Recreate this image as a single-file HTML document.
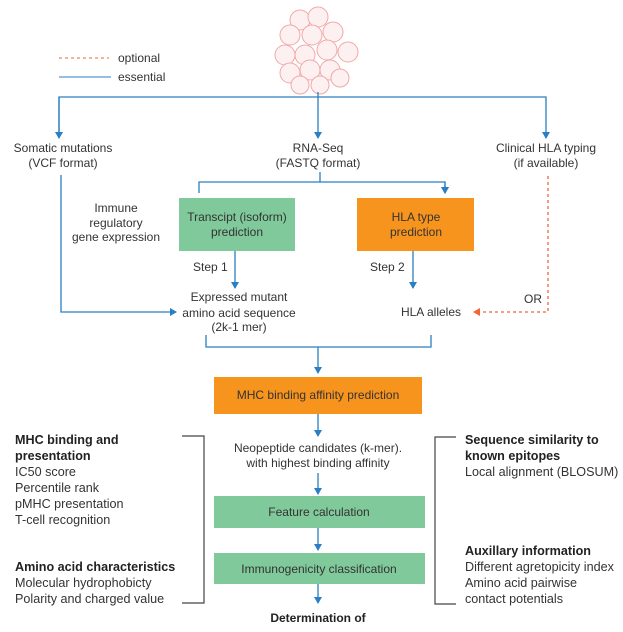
<!DOCTYPE html>
<html><head><meta charset="utf-8"><style>
body{margin:0;background:#fff}
svg text{font-family:"Liberation Sans",sans-serif;font-size:12px;fill:#333}
.b{font-weight:bold;fill:#222}
.s{font-size:12.6px}
</style></head><body>
<svg width="623" height="627" viewBox="0 0 623 627" xmlns="http://www.w3.org/2000/svg">
<defs>
<marker id="a" markerWidth="8" markerHeight="8" refX="6" refY="4" orient="auto" markerUnits="userSpaceOnUse"><path d="M0,0 L7,4 L0,8 z" fill="#2a7fc4"/></marker>
<marker id="o" markerWidth="8" markerHeight="8" refX="6" refY="4" orient="auto" markerUnits="userSpaceOnUse"><path d="M0,0 L7,4 L0,8 z" fill="#f0653a"/></marker>
</defs>
<g fill="#fdf0f0" stroke="#f2a8a8" stroke-width="1">
<circle cx="300" cy="20" r="10"/><circle cx="318" cy="17" r="10"/><circle cx="290" cy="35" r="10"/><circle cx="312" cy="35" r="10"/><circle cx="333" cy="32" r="10"/>
<circle cx="348" cy="52" r="10"/><circle cx="285" cy="55" r="10"/><circle cx="305" cy="55" r="10"/><circle cx="327" cy="50" r="10"/>
<circle cx="290" cy="73" r="10"/><circle cx="310" cy="70" r="10"/><circle cx="330" cy="70" r="10"/><circle cx="300" cy="85" r="9"/><circle cx="320" cy="85" r="9"/><circle cx="340" cy="78" r="9"/>
</g>
<line x1="59" y1="58" x2="109" y2="58" stroke="#f0653a" stroke-dasharray="3,3"/>
<line x1="59" y1="77" x2="111" y2="77" stroke="#2a7fc4"/>
<text x="118" y="62">optional</text><text x="118" y="81">essential</text>
<g stroke="#2a7fc4" stroke-width="1.3" fill="none">
<path d="M59,138 V97 H546 V138" marker-end="url(#a)"/>
<path d="M59,97 V138" marker-end="url(#a)"/>
<path d="M318,92 V138" marker-end="url(#a)"/>
<path d="M320,172 V182"/>
<path d="M199,193 V182 H445 V193" marker-end="url(#a)"/>
<path d="M445,182 V193" marker-end="url(#a)"/>
<path d="M61,175 V312 H176" marker-end="url(#a)"/>
<path d="M235,251 V288" marker-end="url(#a)"/>
<path d="M413,251 V288" marker-end="url(#a)"/>
<path d="M206,335 V347 H431 V335"/>
<path d="M318,347 V373" marker-end="url(#a)"/>
<path d="M318,414 V436" marker-end="url(#a)"/>
<path d="M318,473 V494" marker-end="url(#a)"/>
<path d="M318,528 V550" marker-end="url(#a)"/>
<path d="M318,584 V603" marker-end="url(#a)"/>
</g>
<path d="M548,176 V312 H474" stroke="#f0653a" stroke-width="1.3" stroke-dasharray="3,3" fill="none" marker-end="url(#o)"/>
<g stroke="#444" stroke-width="1.2" fill="none">
<path d="M182,436 H204 V603 H182"/>
<path d="M456,437 H435 V604 H456"/>
</g>
<rect x="179" y="198" width="116" height="53" fill="#80c99a"/>
<rect x="357" y="198" width="117" height="53" fill="#f7941d"/>
<rect x="214" y="377" width="208" height="37" fill="#f7941d"/>
<rect x="214" y="496" width="211" height="32" fill="#80c99a"/>
<rect x="214" y="553" width="211" height="31" fill="#80c99a"/>
<g text-anchor="middle">
<text x="63" y="152">Somatic mutations</text><text x="63" y="167">(VCF format)</text>
<text x="318" y="152">RNA-Seq</text><text x="318" y="167">(FASTQ format)</text>
<text x="546" y="152">Clinical HLA typing</text><text x="546" y="167">(if available)</text>
<text x="116" y="212">Immune</text><text x="116" y="227">regulatory</text><text x="116" y="241">gene expression</text>
<text x="237" y="221">Transcipt (isoform)</text><text x="237" y="236">prediction</text>
<text x="416" y="221">HLA type</text><text x="416" y="236">prediction</text>
<text x="239" y="301">Expressed mutant</text><text x="239" y="317">amino acid sequence</text><text x="239" y="331">(2k-1 mer)</text>
<text x="431" y="316">HLA alleles</text>
<text x="318" y="399">MHC binding affinity prediction</text>
<text x="318" y="452">Neopeptide candidates (k-mer).</text><text x="318" y="467">with highest binding affinity</text>
<text x="319" y="516">Feature calculation</text>
<text x="319" y="573">Immunogenicity classification</text>
<text x="318" y="622" class="b">Determination of</text>
</g>
<text x="193" y="271">Step 1</text><text x="370" y="271">Step 2</text>
<text x="524" y="303">OR</text>
<g class="s">
<text x="15" y="444" class="b s">MHC binding and</text><text x="15" y="460" class="b s">presentation</text>
<text x="15" y="476" class="s">IC50 score</text><text x="15" y="492" class="s">Percentile rank</text><text x="15" y="508" class="s">pMHC presentation</text><text x="15" y="524" class="s">T-cell recognition</text>
<text x="15" y="571" class="b s">Amino acid characteristics</text><text x="15" y="587" class="s">Molecular hydrophobicty</text><text x="15" y="603" class="s">Polarity and charged value</text>
<text x="465" y="444" class="b s">Sequence similarity to</text><text x="465" y="460" class="b s">known epitopes</text><text x="465" y="476" class="s">Local alignment (BLOSUM)</text>
<text x="465" y="555" class="b s">Auxillary information</text><text x="465" y="571" class="s">Different agretopicity index</text><text x="465" y="587" class="s">Amino acid pairwise</text><text x="465" y="603" class="s">contact potentials</text>
</g>
</svg>
</body></html>
